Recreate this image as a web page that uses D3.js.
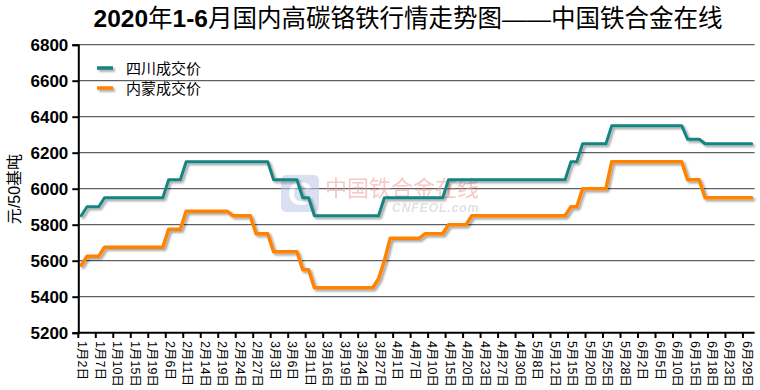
<!DOCTYPE html>
<html><head><meta charset="utf-8">
<script src="https://cdn.jsdelivr.net/npm/d3@7/dist/d3.min.js"></script>
<style>html,body{margin:0;padding:0;background:#fff;}svg{display:block;}</style>
</head><body>
<svg id="chart" width="760" height="390"></svg>
<script>
const seriesNames = ["四川成交价", "内蒙成交价"];
const seriesColors = ["#158582", "#ff8200"];
const sichuan = [5850,
 5900,5900,5900,
 5950,5950,5950,5950,5950,5950,5950,5950,5950,5950,5950,
 6050,6050,6050,
 6150,6150,6150,6150,6150,6150,6150,6150,6150,6150,6150,6150,6150,6150,6150,
 6050,6050,6050,6050,6050,
 5950,5950,
 5850,5850,5850,5850,5850,5850,5850,5850,5850,5850,5850,5850,
 5950,5950,5950,5950,5950,5950,5950,5950,5950,5950,5950,
 6050,6050,6050,6050,6050,6050,6050,6050,6050,6050,6050,6050,6050,6050,6050,6050,6050,6050,6050,6050,6050,
 6150,6150,
 6250,6250,6250,6250,6250,
 6350,6350,6350,6350,6350,6350,6350,6350,6350,6350,6350,6350,6350,
 6275,6275,6275,
 6250,6250,6250,6250,6250,6250,6250,6250,6250];
const neimeng = [5575,
 5625,5625,5625,
 5675,5675,5675,5675,5675,5675,5675,5675,5675,5675,5675,
 5775,5775,5775,
 5875,5875,5875,5875,5875,5875,5875,5875,
 5850,5850,5850,5850,
 5750,5750,5750,
 5650,5650,5650,5650,5650,
 5550,5550,
 5450,5450,5450,5450,5450,5450,5450,5450,5450,5450,5450,
 5500,
 5600,
 5725,5725,5725,5725,5725,5725,
 5750,5750,5750,5750,
 5800,5800,5800,5800,
 5850,5850,5850,5850,5850,5850,5850,5850,5850,5850,5850,5850,5850,5850,5850,5850,5850,
 5900,5900,
 6000,6000,6000,6000,6000,
 6150,6150,6150,6150,6150,6150,6150,6150,6150,6150,6150,6150,6150,
 6050,6050,6050,
 5950,5950,5950,5950,5950,5950,5950,5950,5950];
const tickLabels = ["1月2日","1月7日","1月10日","1月15日","1月19日","2月6日","2月11日","2月14日","2月19日","2月24日","2月27日","3月3日","3月6日","3月11日","3月16日","3月19日","3月24日","3月27日","4月1日","4月7日","4月10日","4月15日","4月20日","4月23日","4月27日","4月30日","5月8日","5月12日","5月15日","5月20日","5月25日","5月28日","6月2日","6月5日","6月10日","6月15日","6月18日","6月23日","6月29日"];
const labelEvery = 3;
const yTicks = [5200,5400,5600,5800,6000,6200,6400,6600,6800];
const titleParts = [["2020",true],["年",false],["1-6",true],["月国内高碳铬铁行情走势图——中国铁合金在线",false]];
const yTitle = "元/50基吨";

const svg = d3.select("#chart");
const latin = "'Liberation Sans', Arial, sans-serif";
const cjk = "'Liberation Sans', 'Noto Sans CJK SC', sans-serif";

const n = sichuan.length;
const x = d3.scaleBand().domain(d3.range(n)).range([78.3, 754.6]).paddingInner(0).paddingOuter(0);
const y = d3.scaleLinear().domain([5200, 6800]).range([332.7, 44.7]);
const xc = i => x(i) + x.bandwidth() / 2;

// defs: shadow
const defs = svg.append("defs");
const f = defs.append("filter").attr("id", "shadow").attr("filterUnits", "userSpaceOnUse")
  .attr("x", 0).attr("y", 0).attr("width", 760).attr("height", 390);
f.append("feGaussianBlur").attr("in", "SourceAlpha").attr("stdDeviation", 1.2).attr("result", "b");
f.append("feOffset").attr("in", "b").attr("dx", 1.5).attr("dy", 2).attr("result", "o");
f.append("feComponentTransfer").attr("in", "o").attr("result", "o2")
  .append("feFuncA").attr("type", "linear").attr("slope", 0.35);
const fm = f.append("feMerge");
fm.append("feMergeNode").attr("in", "o2");
fm.append("feMergeNode").attr("in", "SourceGraphic");

// title
const title = svg.append("text").attr("x", 408).attr("y", 27).attr("text-anchor", "middle")
  .attr("font-family", cjk).attr("font-size", 24.5).attr("fill", "#000");
titleParts.forEach(([t, b]) => title.append("tspan").attr("font-weight", b ? "bold" : "normal").text(t));

// grid
svg.append("g").selectAll("line").data(yTicks.slice(1)).join("line")
  .attr("x1", 78.3).attr("x2", 754.6).attr("y1", d => y(d)).attr("y2", d => y(d))
  .attr("stroke", "#3a3a3a").attr("stroke-width", 1);

// watermark
const wm = svg.append("g").attr("opacity", 0.55);
wm.append("rect").attr("x", 281).attr("y", 175).attr("width", 38).attr("height", 37).attr("rx", 5)
  .attr("fill", "#b9c7e6");
wm.append("text").attr("x", 300).attr("y", 205).attr("text-anchor", "middle").attr("font-family", latin)
  .attr("font-weight", "bold").attr("font-size", 34).attr("fill", "#ffffff").text("C");
wm.append("text").attr("x", 325).attr("y", 196).attr("font-family", "'Noto Sans CJK SC', sans-serif")
  .attr("font-size", 22).attr("fill", "#f09a9a").text("中国铁合金在线");
wm.append("text").attr("x", 392).attr("y", 212).attr("font-family", latin).attr("font-style", "italic")
  .attr("font-weight", "bold").attr("font-size", 12).attr("letter-spacing", 1).attr("fill", "#c8c8c8").text("CNFEOL.com");

// lines
const line = d3.line().x((d, i) => xc(i)).y(d => y(d));
[sichuan, neimeng].forEach((s, k) => {
  svg.append("path").datum(s).attr("d", line).attr("fill", "none")
    .attr("stroke", seriesColors[k]).attr("stroke-width", k === 0 ? 3 : 3.5)
    .attr("stroke-linejoin", "round").attr("stroke-linecap", "round")
    .attr("filter", "url(#shadow)");
});

// y axis
const yAxis = svg.append("g").attr("transform", "translate(78.3,0)")
  .call(d3.axisLeft(y).tickValues(yTicks).tickSize(6).tickPadding(4).tickFormat(d3.format("d")));
yAxis.select(".domain").attr("stroke", "#000").attr("stroke-width", 2);
yAxis.selectAll(".tick line").attr("stroke", "#000").attr("stroke-width", 2);
yAxis.selectAll(".tick text").attr("font-family", latin).attr("font-weight", "bold").attr("font-size", 17).attr("fill", "#000");

// x axis
const labelIdx = d3.range(0, n, labelEvery).slice(0, tickLabels.length);
const xg = svg.append("g");
xg.append("line").attr("x1", 77.3).attr("x2", 754.6).attr("y1", 332.7).attr("y2", 332.7)
  .attr("stroke", "#000").attr("stroke-width", 2);
xg.selectAll("line.t").data(labelIdx).join("line").attr("class", "t")
  .attr("x1", d => x(d)).attr("x2", d => x(d)).attr("y1", 332.7).attr("y2", 338)
  .attr("stroke", "#000").attr("stroke-width", 2);
xg.selectAll("text").data(labelIdx).join("text")
  .attr("transform", (d, k) => `translate(${xc(d) + 1.5},341) rotate(90)`)
  .attr("dy", "0.35em").attr("font-family", cjk).attr("font-size", 12.5).attr("fill", "#000")
  .text((d, k) => tickLabels[k]);

// y title
svg.append("text").attr("transform", "translate(20,189) rotate(-90)").attr("text-anchor", "middle")
  .attr("font-family", cjk).attr("font-size", 16).attr("fill", "#000").text(yTitle);

// legend
const lg = svg.append("g");
seriesNames.forEach((nm, k) => {
  const yy = 68 + k * 20;
  lg.append("line").attr("x1", 97).attr("x2", 113).attr("y1", yy).attr("y2", yy)
    .attr("stroke", seriesColors[k]).attr("stroke-width", 3.5).attr("filter", "url(#shadow)");
  lg.append("text").attr("x", 126).attr("y", yy + 5.5).attr("font-family", cjk).attr("font-size", 15)
    .attr("fill", "#000").text(nm);
});
</script>
</body></html>
